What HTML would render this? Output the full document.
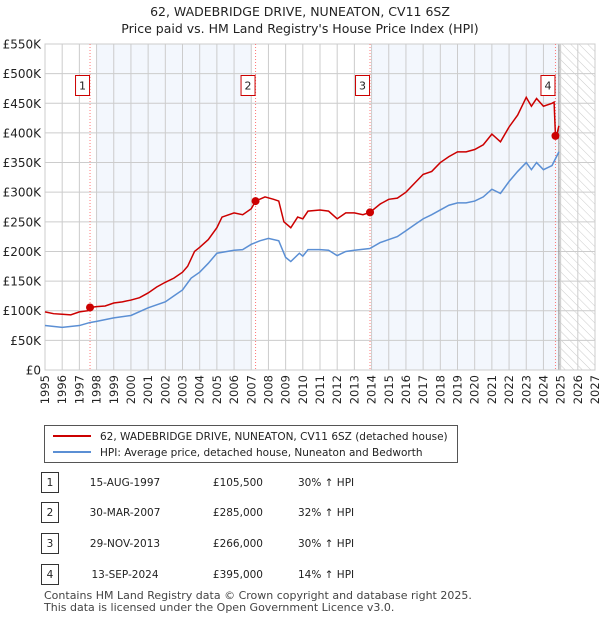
<!DOCTYPE html>
<html><head><meta charset="utf-8"><style>
body{margin:0;background:#fff;font-family:"Liberation Sans","DejaVu Sans",sans-serif;}
svg text{font-family:"DejaVu Sans","Liberation Sans",sans-serif;}
</style></head><body>
<svg id="c" width="600" height="620" xmlns="http://www.w3.org/2000/svg">
<defs><pattern id="hatch" width="6" height="6" patternUnits="userSpaceOnUse" patternTransform="rotate(-45)"><line x1="0" y1="0" x2="0" y2="6" stroke="#ccc" stroke-width="1"/></pattern></defs>
<text x="300" y="16" text-anchor="middle" font-size="12.5" fill="#222">62, WADEBRIDGE DRIVE, NUNEATON, CV11 6SZ</text>
<text x="300" y="33" text-anchor="middle" font-size="12.5" fill="#222">Price paid vs. HM Land Registry's House Price Index (HPI)</text>
<g id="plot"></g>
<g>
<rect x="44.5" y="425.5" width="413" height="37" fill="#fff" stroke="#555"/>
<line x1="53" y1="436" x2="91" y2="436" stroke="#cc0000" stroke-width="2"/>
<text x="100" y="440" font-size="10.5" fill="#222">62, WADEBRIDGE DRIVE, NUNEATON, CV11 6SZ (detached house)</text>
<line x1="53" y1="452" x2="91" y2="452" stroke="#5b8fd4" stroke-width="2"/>
<text x="100" y="456" font-size="10.5" fill="#222">HPI: Average price, detached house, Nuneaton and Bedworth</text>
</g>
<g id="table" font-size="10.5" fill="#222"></g>
<text x="44" y="599" font-size="11" fill="#444">Contains HM Land Registry data © Crown copyright and database right 2025.</text>
<text x="44" y="611" font-size="11" fill="#444">This data is licensed under the Open Government Licence v3.0.</text>
</svg>
<script>
const redT=[1995,1995.5,1996,1996.5,1997,1997.5,1997.62,1998,1998.5,1999,1999.5,2000,2000.5,2001,2001.5,2002,2002.5,2003,2003.3,2003.7,2004,2004.5,2005,2005.3,2006,2006.5,2007,2007.25,2007.8,2008.3,2008.6,2008.9,2009.3,2009.7,2010,2010.3,2011,2011.5,2012,2012.5,2013,2013.5,2013.91,2014.5,2015,2015.5,2016,2016.5,2017,2017.5,2018,2018.5,2019,2019.5,2020,2020.5,2021,2021.5,2022,2022.5,2023,2023.3,2023.6,2024,2024.5,2024.62,2024.7,2024.8,2024.9];
const redV=[98,95,94,93,98,100,105.5,107,108,113,115,118,122,130,140,148,155,165,175,200,207,220,240,258,265,262,272,285,292,288,285,250,240,258,255,268,270,268,255,265,265,262,266,280,288,290,300,315,330,335,350,360,368,368,372,380,398,385,410,430,460,445,458,445,450,452,395,400,412];
const hpiT=[1995,1996,1997,1997.6,1998,1999,2000,2001,2002,2002.5,2003,2003.5,2004,2004.5,2005,2006,2006.5,2007,2007.5,2008,2008.6,2009,2009.3,2009.8,2010,2010.3,2011,2011.5,2012,2012.5,2013,2013.9,2014.5,2015,2015.5,2016,2016.5,2017,2017.5,2018,2018.5,2019,2019.5,2020,2020.5,2021,2021.5,2022,2022.5,2023,2023.3,2023.6,2024,2024.5,2024.9];
const hpiV=[75,72,75,80,82,88,92,105,115,125,135,155,165,180,197,202,203,212,218,222,218,190,183,197,192,203,203,202,193,200,202,205,215,220,225,235,245,255,262,270,278,282,282,285,292,305,298,318,335,350,338,350,338,345,368];
const saleT=[1997.62,2007.25,2013.91,2024.7];
const saleV=[105.5,285,266,395];
const saleLabels=["1","2","3","4"];
const saleDates=["15-AUG-1997","30-MAR-2007","29-NOV-2013","13-SEP-2024"];
const salePrices=["£105,500","£285,000","£266,000","£395,000"];
const saleHpi=["30% ↑ HPI","32% ↑ HPI","30% ↑ HPI","14% ↑ HPI"];
const yTicks=[0,50,100,150,200,250,300,350,400,450,500,550];
const yLabels=["£0","£50K","£100K","£150K","£200K","£250K","£300K","£350K","£400K","£450K","£500K","£550K"];
const NS="http://www.w3.org/2000/svg";
const X0=45,X1=595,Y0=370,Y1=44,T0=1995,T1=2027,V1=550;
const xs=t=>X0+(t-T0)/(T1-T0)*(X1-X0);
const ys=v=>Y0-v/V1*(Y0-Y1);
const g=document.getElementById('plot');
function mk(tag,at,parent){const e=document.createElementNS(NS,tag);for(const k in at)e.setAttribute(k,at[k]);(parent||g).appendChild(e);return e;}
let e;
e=mk('rect',{x:xs(1998),y:Y1,width:xs(2007)-xs(1998),height:Y0-Y1,fill:'#eef3fc',opacity:0.7});


e=mk('rect',{x:xs(2014),y:Y1,width:xs(2024.9)-xs(2014),height:Y0-Y1,fill:'#eef3fc',opacity:0.7});


e=mk('rect',{x:xs(2024.9),y:Y1,width:X1-xs(2024.9),height:Y0-Y1,fill:'url(#hatch)'});


for(let t=T0;t<=T1;t++){
 e=mk('line',{x1:xs(t),x2:xs(t),y1:Y1,y2:Y0,stroke:'#ccc','stroke-width':1});
 
 
 e=mk('text',{x:0,y:0,transform:`translate(${xs(t)+4},${Y0+5}) rotate(-90)`,'text-anchor':'end','font-size':11.5,fill:'#222'});
 e.textContent=t;
 
 
}
yTicks.forEach((v,i)=>{
 e=mk('line',{x1:X0,x2:X1,y1:ys(v),y2:ys(v),stroke:'#ccc','stroke-width':1});
 
 
 e=mk('text',{x:X0-4,y:ys(v)+4.5,'text-anchor':'end','font-size':12,fill:'#222'});
 e.textContent=yLabels[i];
 
 
});
e=mk('line',{x1:xs(2024.9),x2:xs(2024.9),y1:Y1,y2:Y0,stroke:'#888','stroke-width':1});


e=mk('rect',{x:X0,y:Y1,width:X1-X0,height:Y0-Y1,fill:'none',stroke:'#ccc'});


saleT.forEach((t,i)=>{
 e=mk('line',{x1:xs(t),x2:xs(t),y1:Y1,y2:Y0,stroke:'#f77','stroke-width':1,'stroke-dasharray':'1,2'});
 
 
 e=mk('rect',{x:xs(t)-14.5,y:75.5,width:14,height:20,fill:'#fff',stroke:'#cc0000'});
 
 
 e=mk('text',{x:xs(t)-7.5,y:89.5,'text-anchor':'middle','font-size':11,fill:'#222'});
 e.textContent=saleLabels[i];
 
 
});
e=mk('polyline',{points:hpiT.map((t,i)=>xs(t)+','+ys(hpiV[i])).join(' '),fill:'none',stroke:'#5b8fd4','stroke-width':1.5});


e=mk('polyline',{points:redT.map((t,i)=>xs(t)+','+ys(redV[i])).join(' '),fill:'none',stroke:'#cc0000','stroke-width':1.5});


saleT.forEach((t,i)=>{
 e=mk('circle',{cx:xs(t),cy:ys(saleV[i]),r:4,fill:'#cc0000'});
 
 
});
const tb=document.getElementById('table');
const rowY=[486,516,547,578];
saleLabels.forEach((l,i)=>{
 const y=rowY[i];
 e=mk('rect',{x:41.5,y:y-13.5,width:17,height:20,fill:'#fff',stroke:'#333'},tb);
 
 
 e=mk('text',{x:50,y:y,'text-anchor':'middle'},tb);e.textContent=l;
 
 
 e=mk('text',{x:125,y:y,'text-anchor':'middle'},tb);e.textContent=saleDates[i];
 
 
 e=mk('text',{x:263,y:y,'text-anchor':'end'},tb);e.textContent=salePrices[i];
 
 
 e=mk('text',{x:298,y:y},tb);e.textContent=saleHpi[i];
 
 
});
</script>
</body></html>
